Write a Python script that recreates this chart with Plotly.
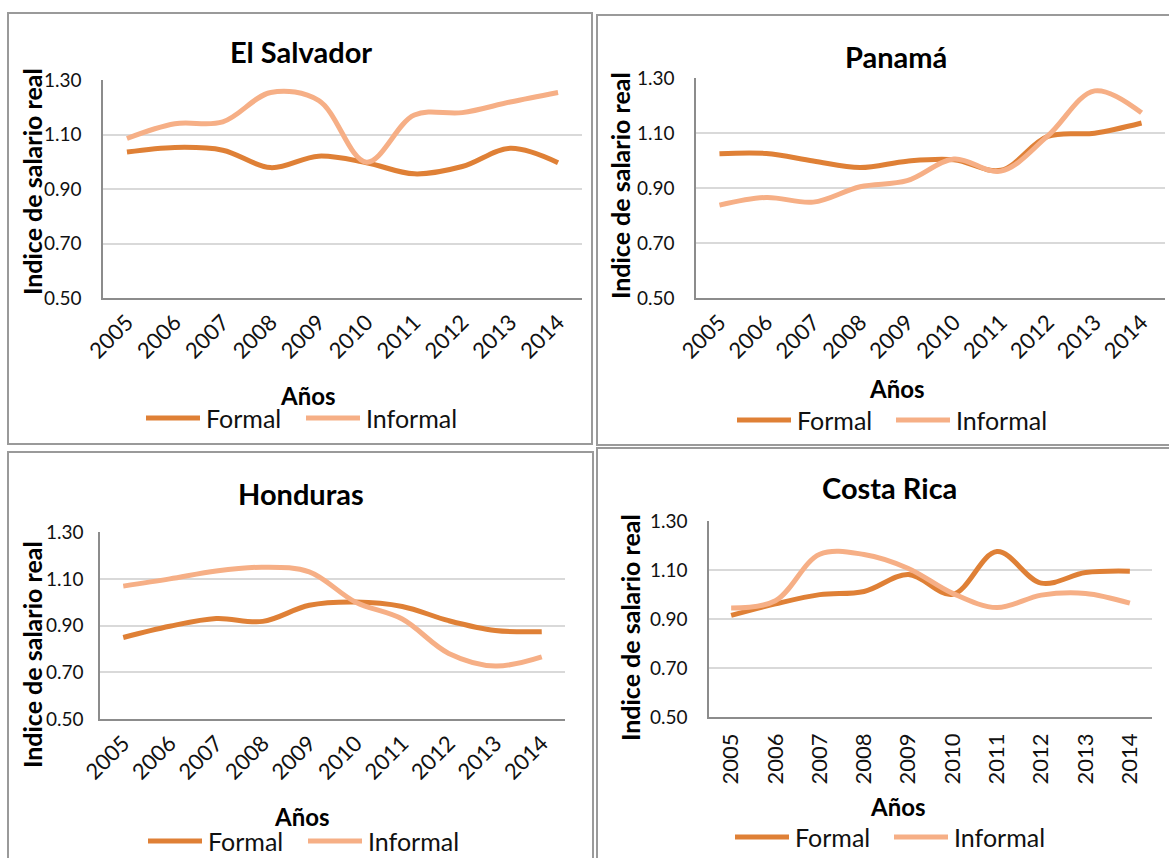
import plotly.graph_objects as go

# ---------------- data ----------------
years = ["2005", "2006", "2007", "2008", "2009", "2010", "2011", "2012", "2013", "2014"]
countries = ["El Salvador", "Panamá", "Honduras", "Costa Rica"]
series_names = ["Formal", "Informal"]

formal_sv = [1.036, 1.053, 1.043, 0.979, 1.021, 0.997, 0.956, 0.983, 1.050, 0.997]
informal_sv = [1.086, 1.140, 1.147, 1.255, 1.226, 0.999, 1.172, 1.181, 1.220, 1.255]

formal_pa = [1.025, 1.026, 0.999, 0.975, 0.998, 1.003, 0.965, 1.088, 1.100, 1.137]
informal_pa = [0.838, 0.866, 0.849, 0.905, 0.927, 1.006, 0.962, 1.090, 1.254, 1.174]

formal_hn = [0.849, 0.897, 0.930, 0.918, 0.987, 1.001, 0.982, 0.921, 0.879, 0.874]
informal_hn = [1.069, 1.100, 1.134, 1.150, 1.130, 1.000, 0.928, 0.781, 0.727, 0.766]

formal_cr = [0.915, 0.962, 1.000, 1.013, 1.082, 1.001, 1.176, 1.047, 1.090, 1.096]
informal_cr = [0.945, 0.975, 1.165, 1.164, 1.107, 1.005, 0.947, 0.998, 1.005, 0.965]

y_ticks = [0.50, 0.70, 0.90, 1.10, 1.30]
y_title = "Indice de salario real"
x_title = "Años"

# ---------------- styling ----------------
W, H = 1169, 858
FONT = "Lato"
C_FORMAL = "#DF8036"
C_INFORMAL = "#F6AF86"
LINE_W = 5


def px(x):
    return x / W


def py(y):
    return 1 - y / H


# panel geometry (pixels): plot area and decorations
panels = [
    dict(name=countries[0], f=formal_sv, i=informal_sv, x0=103, x1=582, y0=80, y1=298, angle=-45, tl=16, xl=1,
         title=(301, 52), ytitle=(32, 182), xtitle=(308, 395),
         leg=(418, 146, 306), border=(8, 13, 592, 444)),
    dict(name=countries[1], f=formal_pa, i=informal_pa, x0=696, x1=1165, y0=78, y1=298, angle=-45, tl=16, xl=1,
         title=(896, 56), ytitle=(620, 185), xtitle=(897, 388),
         leg=(420, 737, 896), border=(597, 15, 1180, 445)),
    dict(name=countries[2], f=formal_hn, i=informal_hn, x0=100, x1=565, y0=532, y1=719, angle=-45, tl=11, xl=1,
         title=(301, 493), ytitle=(32, 655), xtitle=(302, 816),
         leg=(841, 148, 308), border=(8, 452, 593, 880)),
    dict(name=countries[3], f=formal_cr, i=informal_cr, x0=709, x1=1152, y0=521, y1=717, angle=-90, tl=16, xl=6,
         title=(889, 488), ytitle=(630, 628), xtitle=(898, 806),
         leg=(837, 735, 894), border=(597, 448, 1180, 880)),
]

fig = go.Figure()
shapes = []
annotations = []
layout_axes = {}

for k, p in enumerate(panels):
    n = "" if k == 0 else str(k + 1)
    xa, ya = "x" + n, "y" + n
    fig.add_trace(go.Scatter(x=years, y=p["f"], name=series_names[0], mode="lines",
                             line=dict(color=C_FORMAL, width=LINE_W, shape="spline"),
                             xaxis=xa, yaxis=ya, showlegend=False))
    fig.add_trace(go.Scatter(x=years, y=p["i"], name=series_names[1], mode="lines",
                             line=dict(color=C_INFORMAL, width=LINE_W, shape="spline"),
                             xaxis=xa, yaxis=ya, showlegend=False))

    layout_axes["xaxis" + n] = dict(
        domain=[px(p["x0"]), px(p["x1"])], anchor=ya, type="category", automargin=False,
        range=[-0.5, 9.5], showline=True, linecolor="#8C8C8C", linewidth=1.5,
        showgrid=False, zeroline=False, tickangle=p["angle"],
        ticks="outside", ticklen=p["xl"], tickcolor="rgba(0,0,0,0)",
        tickfont=dict(family=FONT, size=22, color="#111111"), fixedrange=True)
    layout_axes["yaxis" + n] = dict(
        domain=[py(p["y1"]), py(p["y0"])], anchor=xa, range=[0.5, 1.3008], automargin=False,
        tickvals=y_ticks, tickformat=".2f", showline=True, linecolor="#8C8C8C",
        linewidth=1.5, showgrid=True, gridcolor="#D9D9D9", gridwidth=1.5,
        zeroline=False, ticks="outside", ticklen=p["tl"],
        tickcolor="rgba(0,0,0,0)",
        tickfont=dict(family=FONT, size=19, color="#111111"), fixedrange=True)

    # panel border
    bx0, by0, bx1, by1 = p["border"]
    shapes.append(dict(type="rect", xref="paper", yref="paper",
                       x0=px(bx0), x1=px(bx1), y0=py(by1), y1=py(by0),
                       line=dict(color="#9A9A9A", width=2), fillcolor="rgba(0,0,0,0)", layer="below"))

    # chart title
    annotations.append(dict(text="<b>%s</b>" % p["name"], xref="paper", yref="paper",
                            x=px(p["title"][0]), y=py(p["title"][1]), xanchor="center", yanchor="middle",
                            showarrow=False, font=dict(family=FONT, size=29, color="#000000")))
    # y title
    annotations.append(dict(text="<b>%s</b>" % y_title, xref="paper", yref="paper",
                            x=px(p["ytitle"][0]), y=py(p["ytitle"][1]), xanchor="center", yanchor="middle",
                            textangle=-90, showarrow=False, font=dict(family=FONT, size=25, color="#000000")))
    # x title
    annotations.append(dict(text="<b>%s</b>" % x_title, xref="paper", yref="paper",
                            x=px(p["xtitle"][0]), y=py(p["xtitle"][1]), xanchor="center", yanchor="middle",
                            showarrow=False, font=dict(family=FONT, size=24, color="#000000")))
    # legend
    ly, lx1, lx2 = p["leg"]
    for lx, col, label in [(lx1, C_FORMAL, series_names[0]), (lx2, C_INFORMAL, series_names[1])]:
        shapes.append(dict(type="line", xref="paper", yref="paper",
                           x0=px(lx), x1=px(lx + 54), y0=py(ly), y1=py(ly),
                           line=dict(color=col, width=LINE_W)))
        annotations.append(dict(text=label, xref="paper", yref="paper",
                                x=px(lx + 58), y=py(ly), xanchor="left", yanchor="middle",
                                showarrow=False, font=dict(family=FONT, size=25, color="#111111")))

fig.update_layout(
    width=W, height=H,
    margin=dict(l=0, r=0, t=0, b=0, pad=0, autoexpand=False),
    paper_bgcolor="white", plot_bgcolor="white",
    showlegend=False,
    shapes=shapes, annotations=annotations,
    **layout_axes,
)

fig.write_html("out.html", config={"displayModeBar": False},
               post_script="document.body.style.margin='0px';document.body.style.overflow='hidden';")
